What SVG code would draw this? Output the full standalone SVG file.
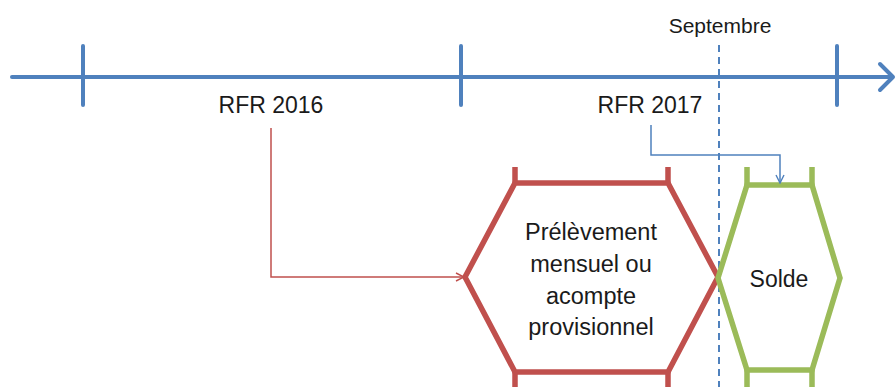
<svg xmlns="http://www.w3.org/2000/svg" width="896" height="387" viewBox="0 0 896 387">
<defs>
<style>
.t{font-family:"Liberation Sans",Arial,sans-serif;fill:#1a1a1a;text-anchor:middle}
.axis{stroke:#4F81BD;stroke-width:4;fill:none;stroke-linecap:round;stroke-linejoin:round}
.red{stroke:#C0504D;stroke-width:5.5;fill:#fff;stroke-linejoin:miter}
.green{stroke:#9BBB59;stroke-width:5.5;fill:#fff;stroke-linejoin:miter}
</style>
<marker id="ar" viewBox="0 0 10 10" refX="9" refY="5" markerWidth="10" markerHeight="10" markerUnits="userSpaceOnUse" orient="auto"><path d="M1,1 L9,5 L1,9" fill="none" stroke="#C0504D" stroke-width="1.4"/></marker>
<marker id="ab" viewBox="0 0 10 10" refX="9" refY="5" markerWidth="10" markerHeight="10" markerUnits="userSpaceOnUse" orient="auto"><path d="M1,1 L9,5 L1,9" fill="none" stroke="#4F81BD" stroke-width="1.4"/></marker>
</defs>
<rect width="896" height="387" fill="#fff"/>
<g id="timeline">
<path class="axis" d="M12,77 H892"/>
<path class="axis" d="M880,64 L893,77 L880,90"/>
<path class="axis" d="M83,46 V105 M461,46 V105 M837,46 V105"/>
</g>
<g id="septembre">
<line x1="719" y1="45" x2="719" y2="387" stroke="#4F81BD" stroke-width="2" stroke-dasharray="7,5"/>
<text class="t" x="720" y="33" font-size="21">Septembre</text>
</g>
<g id="rfr2016"><text class="t" x="271" y="113" font-size="23">RFR 2016</text></g>
<g id="rfr2017"><text class="t" x="650" y="113" font-size="23">RFR 2017</text></g>
<g id="prelevement">
<path class="red" d="M465,277 L515,183 H668 L718,277 L668,372 H515 Z"/>
<path class="red" d="M515,183 V167 M668,183 V167 M515,372 V390 M668,372 V390" fill="none"/>
<text class="t" font-size="23.5"><tspan x="591" y="240">Prélèvement</tspan><tspan x="591" y="272">mensuel ou</tspan><tspan x="591" y="304">acompte</tspan><tspan x="591" y="335">provisionnel</tspan></text>
</g>
<g id="solde">
<path class="green" d="M718,278 L747,185 H812 L840,278 L812,370 H747 Z"/>
<path class="green" d="M747,185 V167 M812,185 V167 M747,370 V390 M812,370 V390" fill="none"/>
<text class="t" x="779" y="287" font-size="23">Solde</text>
</g>
<g id="connectors">
<path d="M271,128 V277 H464" fill="none" stroke="#C0504D" stroke-width="1.5" marker-end="url(#ar)"/>
<path d="M651,125 V155 H780 V183" fill="none" stroke="#4F81BD" stroke-width="1.5" marker-end="url(#ab)"/>
</g>
</svg>
